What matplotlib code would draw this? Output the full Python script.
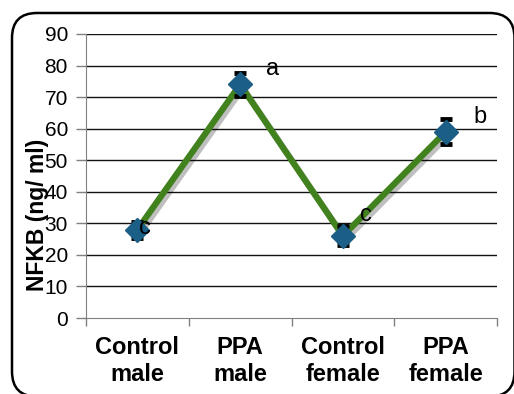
import matplotlib
matplotlib.use("Agg")
import matplotlib.pyplot as plt
import matplotlib.patheffects as pe
from matplotlib.patches import FancyBboxPatch

categories = ["Control\nmale", "PPA\nmale", "Control\nfemale", "PPA\nfemale"]
values = [28, 74, 26, 59]
errors = [2.5, 3.5, 3.0, 4.0]
letters = ["c", "a", "c", "b"]
letter_offsets = [(0.07, 0.5), (0.32, 4.9), (0.22, 6.6), (0.33, 4.7)]
yticks = [0, 10, 20, 30, 40, 50, 60, 70, 80, 90]

plt.rcParams['font.family'] = ['Liberation Sans', 'DejaVu Sans']

W, H = 514, 394
fig = plt.figure(figsize=(W/100, H/100), dpi=100)
ax = fig.add_axes([86/W, (H-318)/H, (497-86)/W, (318-34)/H])

x = list(range(len(categories)))
ax.set_xlim(-0.5, len(categories)-0.5)
ax.set_ylim(0, 90)

for yv in yticks[1:]:
    ax.axhline(yv, color='#111111', lw=1.0, zorder=1)

ax.plot(x, values, color='#41821f', lw=4.5, zorder=3,
        path_effects=[pe.SimpleLineShadow(offset=(2, -2.5), shadow_color='black', alpha=0.25, rho=0.3),
                      pe.Normal()])
ax.errorbar(x, values, yerr=errors, fmt='none', ecolor='black', elinewidth=1.5,
            capsize=4.2, capthick=3.5, zorder=4)
ax.plot(x, values, linestyle='none', marker='D', markersize=12, color='#1b5e86', zorder=5)

for xi, v, l, (dx, dy) in zip(x, values, letters, letter_offsets):
    ax.text(xi+dx, v+dy, l, fontsize=17, ha='center', va='center', zorder=6)

ax.set_yticks(yticks)
ax.set_yticklabels([str(t) for t in yticks], fontsize=15)
ax.set_xticks([i-0.5 for i in range(len(categories)+1)])
ax.set_xticklabels([])
ax.set_xticks(x, minor=True)
ax.set_xticklabels(categories, minor=True, fontsize=17, fontweight='bold', linespacing=1.2)
ax.tick_params(axis='x', which='minor', length=0, pad=13)
ax.tick_params(axis='x', which='major', length=6, color='#808080', width=1)
ax.tick_params(axis='y', length=7, color='#808080', width=1, pad=6)

for s in ['top', 'right']:
    ax.spines[s].set_visible(False)
ax.spines['left'].set_color('#808080')
ax.spines['bottom'].set_color('#808080')

fig.text(38/W, 1-215/H, "NFKB (ng/ ml)", fontsize=16.5, fontweight='bold',
         rotation=90, ha='center', va='center')

box = FancyBboxPatch((0.12, -0.025), 5.025, 3.835, boxstyle="round,pad=0,rounding_size=0.25",
                     transform=fig.dpi_scale_trans, fill=False, lw=1.8, ec='black')
fig.patches.append(box)

fig.savefig("out.png", dpi=100)
